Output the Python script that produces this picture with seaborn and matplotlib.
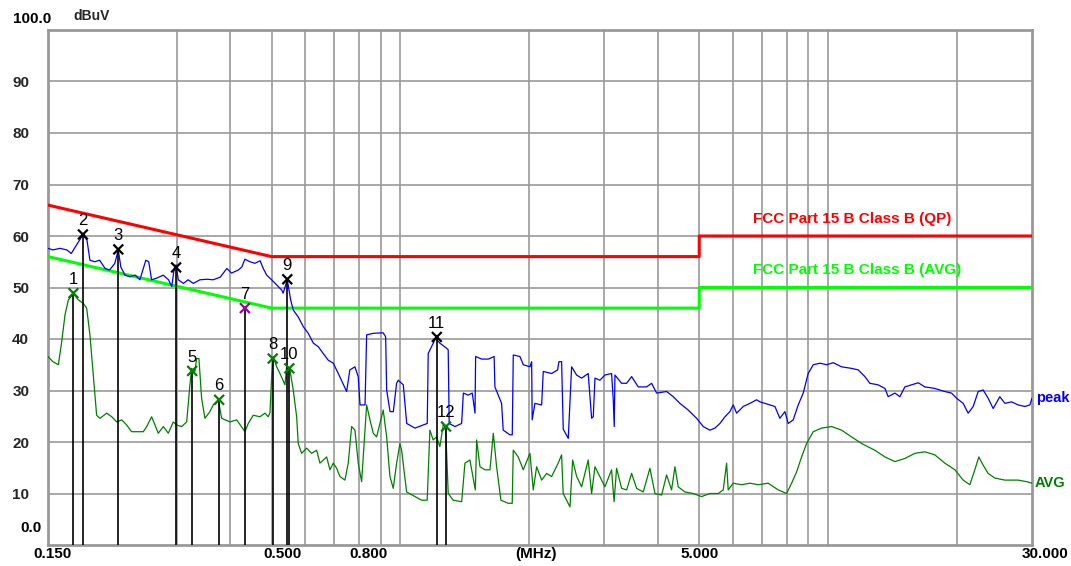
import matplotlib
matplotlib.use("Agg")
import matplotlib.pyplot as plt
from matplotlib.ticker import NullLocator
import seaborn as sns
import pandas as pd

# limit lines (FCC Part 15 B Class B)
qp_freq = [0.15, 0.5, 5.0, 5.0, 30.0]
qp_level = [66, 56, 56, 60, 60]
avg_lim_freq = [0.15, 0.5, 5.0, 5.0, 30.0]
avg_lim_level = [56, 46, 46, 50, 50]

# peak trace (MHz, dBuV)
peak_freq = [0.150, 0.154, 0.160, 0.166, 0.170, 0.175, 0.181, 0.185, 0.188, 0.193,
             0.198, 0.204, 0.209, 0.215, 0.219, 0.222, 0.227, 0.233, 0.240, 0.246,
             0.254, 0.258, 0.262, 0.269, 0.279, 0.287, 0.292, 0.296, 0.299, 0.3025,
             0.311, 0.319, 0.328, 0.340, 0.353, 0.365, 0.379, 0.393, 0.403, 0.418,
             0.426, 0.433, 0.445, 0.457, 0.470, 0.478, 0.487, 0.500, 0.514, 0.528,
             0.532, 0.544, 0.554, 0.562, 0.577, 0.593, 0.609, 0.626, 0.643, 0.660,
             0.678, 0.697, 0.716, 0.749, 0.762, 0.783, 0.797, 0.805, 0.827, 0.834,
             0.864, 0.912, 0.924, 0.929, 0.946, 0.963, 0.980, 0.989, 1.016, 1.035,
             1.082, 1.131, 1.156, 1.162, 1.183, 1.209, 1.237, 1.283, 1.294, 1.301,
             1.342, 1.391, 1.404, 1.441, 1.473, 1.495, 1.500, 1.550, 1.606, 1.657,
             1.664, 1.725, 1.740, 1.804, 1.827, 1.837, 1.904, 1.939, 2.010, 2.028,
             2.034, 2.064, 2.140, 2.159, 2.259, 2.332, 2.349, 2.383, 2.404, 2.470,
             2.515, 2.584, 2.654, 2.750, 2.776, 2.801, 2.826, 2.852, 2.929, 3.009,
             3.119, 3.147, 3.164, 3.176, 3.292, 3.382, 3.474, 3.600, 3.766, 3.869,
             3.975, 4.194, 4.347, 4.506, 4.712, 4.930, 5.109, 5.296, 5.441, 5.589,
             5.742, 5.898, 6.004, 6.115, 6.337, 6.568, 6.810, 6.932, 7.121, 7.515,
             7.719, 7.931, 8.073, 8.294, 8.520, 8.753, 8.990, 9.236, 9.575, 9.927,
             10.29, 10.76, 11.35, 11.77, 12.20, 12.53, 13.10, 13.59, 13.83, 14.34,
             14.73, 15.13, 15.69, 16.26, 16.85, 17.78, 18.76, 19.45, 19.99, 20.71,
             21.27, 21.86, 22.45, 23.06, 23.69, 24.34, 25.23, 25.92, 26.87, 27.84,
             28.87, 29.66, 30.0]
peak_level = [57.6, 57.3, 57.6, 57.3, 56.6, 58.3, 60.2, 59.2, 55.3, 55.0,
              55.3, 53.7, 53.4, 54.7, 57.3, 54.0, 52.4, 52.1, 52.4, 51.5,
              55.3, 55.0, 51.5, 51.8, 52.4, 51.5, 50.2, 53.7, 54.4, 51.5,
              50.8, 51.5, 50.8, 51.5, 51.6, 51.5, 52.0, 53.7, 52.8, 53.4,
              54.0, 55.5, 55.0, 54.7, 55.2, 53.7, 52.4, 51.5, 50.5, 49.5,
              48.9, 51.5, 47.6, 45.6, 44.3, 42.4, 41.1, 39.2, 38.5, 37.2,
              35.9, 35.3, 33.3, 29.8, 34.0, 34.6, 32.7, 27.2, 27.2, 40.8,
              41.1, 41.2, 40.4, 30.1, 25.9, 25.9, 31.4, 32.0, 31.1, 23.6,
              22.7, 23.3, 23.6, 37.2, 38.5, 40.1, 39.2, 38.2, 37.9, 23.6,
              23.0, 23.6, 29.5, 29.1, 29.5, 25.6, 36.6, 36.1, 36.1, 36.6,
              30.7, 27.5, 22.3, 21.4, 21.4, 36.9, 36.6, 35.0, 34.6, 35.6,
              24.3, 27.5, 27.2, 33.7, 33.3, 34.0, 35.6, 35.6, 22.5, 20.7,
              34.6, 33.0, 32.4, 33.3, 28.8, 24.6, 24.9, 32.4, 32.0, 33.0,
              33.3, 28.2, 23.0, 33.0, 31.4, 31.4, 32.7, 30.7, 30.7, 31.4,
              29.5, 29.8, 28.8, 27.5, 26.2, 24.6, 23.0, 22.3, 22.7, 23.6,
              24.9, 25.9, 27.2, 25.6, 26.9, 27.5, 28.2, 27.8, 27.5, 26.9,
              24.6, 25.9, 23.6, 24.3, 27.2, 29.5, 33.3, 35.0, 35.3, 35.0,
              35.4, 34.6, 34.3, 34.0, 32.7, 31.4, 31.1, 30.4, 28.8, 29.5,
              28.8, 30.7, 31.1, 31.5, 30.7, 30.4, 29.8, 29.5, 28.5, 27.5,
              25.6, 26.9, 29.8, 30.1, 28.5, 26.5, 28.8, 27.5, 27.8, 27.2,
              26.9, 27.2, 28.5]

# average trace
avg_freq = [0.150, 0.154, 0.1586, 0.1615, 0.1644, 0.1674, 0.1720, 0.1766, 0.1814, 0.1847,
            0.1880, 0.1914, 0.1949, 0.1984, 0.2058, 0.2114, 0.2172, 0.2231, 0.2291, 0.2353,
            0.2439, 0.2506, 0.2552, 0.2621, 0.2669, 0.2716, 0.2791, 0.2867, 0.2945, 0.2999,
            0.3080, 0.3165, 0.3221, 0.3251, 0.3309, 0.3339, 0.3381, 0.3430, 0.3492, 0.3587,
            0.3652, 0.3752, 0.3821, 0.3996, 0.4143, 0.4332, 0.4409, 0.4530, 0.4696, 0.4825,
            0.4911, 0.4956, 0.5001, 0.5045, 0.5138, 0.5230, 0.5373, 0.5422, 0.5519, 0.5618,
            0.5722, 0.5771, 0.5877, 0.6039, 0.6203, 0.6372, 0.6486, 0.6603, 0.6725, 0.6845,
            0.6968, 0.7097, 0.7224, 0.7421, 0.7554, 0.7693, 0.7832, 0.7972, 0.8118, 0.8341,
            0.8491, 0.8644, 0.8802, 0.8960, 0.9121, 0.9289, 0.9456, 0.9626, 0.9802, 0.9979,
            1.0069, 1.0345, 1.0819, 1.1214, 1.1556, 1.1725, 1.1936, 1.2154, 1.2372, 1.2595,
            1.2760, 1.2941, 1.3295, 1.3914, 1.4160, 1.4545, 1.4974, 1.5083, 1.5354, 1.5774,
            1.6203, 1.6495, 1.6792, 1.7186, 1.7879, 1.8266, 1.8368, 1.887, 1.9386, 2.0095,
            2.0457, 2.0833, 2.1402, 2.1985, 2.2585, 2.3397, 2.3828, 2.4037, 2.4926, 2.529,
            2.584, 2.654, 2.750, 2.801, 2.852, 2.903, 3.009, 3.119, 3.161, 3.204,
            3.292, 3.382, 3.474, 3.569, 3.698, 3.834, 3.939, 4.083, 4.194, 4.308,
            4.387, 4.465, 4.629, 4.840, 5.064, 5.296, 5.538, 5.689, 5.794, 5.844,
            6.004, 6.281, 6.568, 6.869, 7.249, 7.649, 8.004, 8.221, 8.447, 8.676,
            8.913, 9.236, 9.663, 10.20, 10.76, 11.35, 11.99, 12.87, 13.59, 14.34,
            15.13, 15.97, 16.85, 17.78, 18.76, 19.81, 20.71, 21.47, 22.05, 22.53,
            23.06, 23.69, 24.56, 25.92, 27.84, 29.13, 30.0]
avg_level = [36.6, 35.6, 35.0, 39.5, 44.7, 47.6, 48.8, 47.6, 46.9, 46.0,
             40.8, 33.0, 25.2, 24.6, 25.6, 24.9, 23.9, 24.3, 23.3, 22.0,
             22.0, 22.0, 23.0, 24.9, 23.3, 21.7, 23.0, 21.7, 23.9, 23.3,
             23.0, 23.9, 31.1, 34.3, 33.7, 36.2, 36.2, 28.5, 24.6, 25.9,
             27.2, 28.2, 24.6, 23.9, 24.3, 22.0, 23.6, 25.2, 24.9, 25.6,
             24.9, 25.7, 32.7, 36.6, 34.6, 33.3, 31.1, 34.6, 34.0, 30.1,
             24.9, 19.7, 17.8, 18.8, 17.8, 18.4, 15.9, 16.5, 17.1, 14.6,
             15.9, 14.9, 13.3, 12.6, 15.9, 23.0, 22.3, 15.9, 12.3, 27.2,
             24.3, 21.7, 21.0, 23.6, 26.2, 21.0, 13.3, 11.0, 15.9, 19.7,
             18.4, 10.3, 9.4, 8.7, 8.7, 22.3, 20.4, 21.0, 19.1, 23.3,
             23.0, 10.0, 8.7, 8.4, 15.9, 16.5, 10.7, 20.4, 15.2, 14.6,
             14.6, 21.7, 15.2, 8.7, 8.1, 8.1, 18.4, 17.1, 14.6, 17.8,
             10.7, 15.2, 12.6, 13.9, 13.3, 15.9, 17.5, 10.0, 7.4, 16.5,
             13.3, 11.3, 16.5, 10.0, 15.2, 13.9, 11.3, 14.6, 8.4, 14.9,
             11.0, 10.7, 13.9, 11.0, 10.3, 14.9, 10.0, 9.7, 13.6, 10.7,
             15.2, 11.3, 10.3, 10.0, 9.4, 10.0, 10.0, 10.7, 15.9, 10.7,
             12.0, 11.7, 12.0, 11.7, 12.0, 10.7, 10.0, 12.0, 14.2, 17.1,
             19.7, 22.0, 22.7, 23.0, 22.3, 21.0, 19.7, 18.4, 17.1, 16.2,
             16.8, 17.8, 18.1, 17.5, 15.9, 14.6, 12.6, 11.7, 14.6, 17.1,
             15.5, 13.9, 13.0, 12.6, 12.6, 12.3, 12.0]

# marked points
mk_label = ["1", "2", "3", "4", "5", "6", "7", "8", "9", "10", "11", "12"]
mk_freq = [0.172, 0.181, 0.219, 0.299, 0.326, 0.377, 0.433, 0.503, 0.544, 0.550, 1.217, 1.279]
mk_level = [48.9, 60.3, 57.4, 53.9, 33.8, 28.2, 46.0, 36.2, 51.6, 34.3, 40.4, 23.0]
mk_kind = ["avg", "peak", "peak", "peak", "avg", "avg", "over", "avg", "peak", "avg", "peak", "avg"]

grid_freq = [0.3, 0.4, 0.5, 0.6, 0.7, 0.8, 0.9, 1, 2, 3, 4, 5, 6, 7, 8, 9, 10, 20]
y_ticks = [10, 20, 30, 40, 50, 60, 70, 80, 90]

W, H = 1071, 566
BLUE = "#0000ff"
GREEN = "#008000"
LIME = "#00ff00"
RED = "#ff0000"
kind_color = {"peak": "black", "avg": GREEN, "over": "#a000a0"}


def px(x, y):
    return x / W, 1 - y / H


sns.set_theme(style="white")
plt.rcParams["font.family"] = ["Liberation Sans", "DejaVu Sans"]

fig = plt.figure(figsize=(W / 100, H / 100), dpi=100)
ax = fig.add_axes([48 / W, 21 / H, 984 / W, 515 / H])
ax.set_xscale("log")

sns.lineplot(x=qp_freq, y=qp_level, ax=ax, color=RED, lw=2.2, sort=False, estimator=None, zorder=3)
sns.lineplot(x=avg_lim_freq, y=avg_lim_level, ax=ax, color=LIME, lw=2.2, sort=False, estimator=None, zorder=3)
sns.lineplot(x=avg_freq, y=avg_level, ax=ax, color=GREEN, lw=0.9, sort=False, estimator=None, zorder=4)
sns.lineplot(x=peak_freq, y=peak_level, ax=ax, color=BLUE, lw=0.9, sort=False, estimator=None, zorder=4)

# marker drop lines and crosses
ax.vlines(mk_freq, 0, mk_level, color="black", lw=1.2, zorder=5)
mk = pd.DataFrame({"freq": mk_freq, "level": mk_level, "kind": mk_kind})
sns.scatterplot(data=mk, x="freq", y="level", hue="kind", palette=kind_color, marker="x",
                s=50, linewidth=1.6, ax=ax, legend=False, zorder=6)
for lab, f, lv in zip(mk_label, mk_freq, mk_level):
    ax.annotate(lab, (f, lv), xytext=(0, 10), textcoords="offset points",
                ha="center", va="center", fontsize=12, color="black", zorder=7)

ax.set_xlim(0.15, 30)
ax.set_ylim(0, 100)
ax.set_xticks(grid_freq)
ax.set_xticklabels([])
ax.xaxis.set_minor_locator(NullLocator())
ax.set_yticks(y_ticks)
ax.set_yticklabels([str(v) for v in y_ticks], fontsize=11, fontweight="bold")
ax.tick_params(length=0, pad=13.5)
ax.grid(True, color="#999999", lw=1.2)
ax.set_axisbelow(True)
ax.set_xlabel("")
ax.set_ylabel("")
for sp in ax.spines.values():
    sp.set_color("#999999")
    sp.set_linewidth(2)

bold = dict(fontsize=11, fontweight="bold", color="black", va="center", ha="center")
fig.text(*px(32, 19), "100.0", **bold)
fig.text(*px(31, 528), "0.0", **bold)
fig.text(*px(92, 16), "dBuV", fontsize=10, fontweight="bold", va="center", ha="center")
for lab, x in [("0.150", 52), ("0.500", 282), ("0.800", 368), ("(MHz)", 536),
               ("5.000", 700), ("30.000", 1045)]:
    fig.text(*px(x, 554), lab, **bold)

fig.text(*px(753, 219), "FCC Part 15 B Class B (QP)", fontsize=11, fontweight="bold",
         color=RED, va="center", ha="left")
fig.text(*px(753, 270), "FCC Part 15 B Class B (AVG)", fontsize=11, fontweight="bold",
         color=LIME, va="center", ha="left")
fig.text(*px(1036, 398), "peak", fontsize=10.5, fontweight="bold", color=BLUE, va="center", ha="left")
fig.text(*px(1035, 483), "AVG", fontsize=10.5, fontweight="bold", color=GREEN, va="center", ha="left")

fig.savefig("out.png", dpi=100)
